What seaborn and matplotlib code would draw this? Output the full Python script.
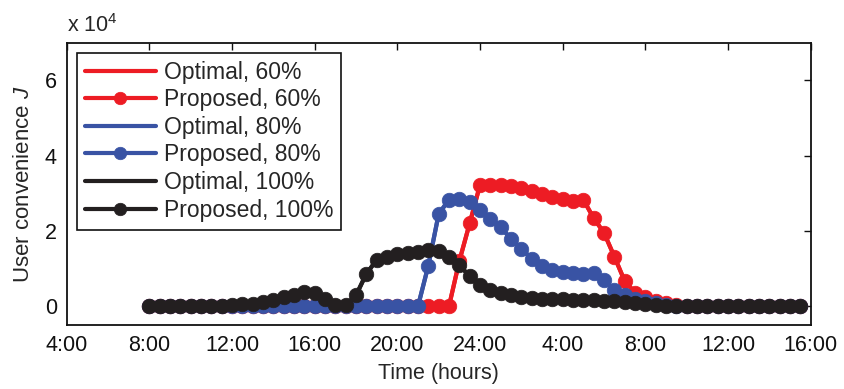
import numpy as np
import matplotlib
matplotlib.use("Agg")
import matplotlib.pyplot as plt
from matplotlib.ticker import FuncFormatter
import seaborn as sns

# ---------------- data ----------------
# time grid: every half hour from 8:00 to 15:30 next day (hours since midnight of day 1)
hours = np.arange(8.0, 40.0, 0.5)

# User convenience J, in units of 1e4
j60 = [0.0] * 30 + [1.2, 2.2, 3.22, 3.22, 3.21, 3.20, 3.14, 3.06, 2.98, 2.91, 2.84,
                    2.80, 2.83, 2.34, 1.95, 1.32, 0.67, 0.36, 0.24, 0.15, 0.08, 0.03] + [0.0] * 12
j80 = [0.0] * 27 + [1.08, 2.45, 2.83, 2.85, 2.77, 2.56, 2.32, 2.10, 1.79, 1.53, 1.26, 1.08,
                    0.97, 0.91, 0.88, 0.86, 0.88, 0.69, 0.44, 0.29, 0.20, 0.14, 0.09, 0.03] + [0.0] * 13
j100 = [0.0] * 8 + [0.02, 0.05, 0.07, 0.11, 0.17, 0.24, 0.31, 0.37, 0.34, 0.20, 0.03, 0.03,
                    0.29, 0.86, 1.23, 1.32, 1.38, 1.41, 1.45, 1.50, 1.47, 1.30, 1.10, 0.79,
                    0.56, 0.44, 0.35, 0.29, 0.25, 0.22, 0.20, 0.19, 0.18, 0.17, 0.16, 0.16,
                    0.15, 0.13, 0.11, 0.09, 0.06, 0.03, 0.01] + [0.0] * 13
# optimal curves coincide with the proposed ones in the picture
opt60 = list(j60)
opt80 = list(j80)
opt100 = list(j100)

UNIT = 1e4
series = [
    ("60%", opt60, j60, "#ED1C24"),
    ("80%", opt80, j80, "#3953A4"),
    ("100%", opt100, j100, "#231F20"),
]

xtick_pos = [4, 8, 12, 16, 20, 24, 28, 32, 36, 40]
xtick_labels = ["4:00", "8:00", "12:00", "16:00", "20:00", "24:00", "4:00", "8:00", "12:00", "16:00"]
ytick_pos = [0, 2, 4, 6]

# ---------------- style ----------------
sns.set_style("white")
plt.rcParams["font.family"] = ["Liberation Sans", "DejaVu Sans"]
plt.rcParams["mathtext.fontset"] = "custom"
plt.rcParams["mathtext.rm"] = "Liberation Sans"
plt.rcParams["mathtext.it"] = "Liberation Sans:italic"

fig = plt.figure(figsize=(8.44, 3.89), dpi=100)
ax = fig.add_axes([0.079, 0.1645, 0.8815, 0.7255])

for pct, opt, prop, col in series:
    sns.lineplot(x=hours, y=np.array(opt) * UNIT, ax=ax, color=col, linewidth=3.0,
                 estimator=None, label=f"Optimal, {pct}")
    sns.lineplot(x=hours, y=np.array(prop) * UNIT, ax=ax, color=col, linewidth=3.0,
                 marker="o", markersize=10.5, markeredgecolor=col, markeredgewidth=0.5,
                 estimator=None, label=f"Proposed, {pct}")

ax.set_xlim(4, 40)
ax.set_ylim(-0.5 * UNIT, 7 * UNIT)
ax.set_xticks(xtick_pos)
ax.set_xticklabels(xtick_labels)
ax.set_yticks([v * UNIT for v in ytick_pos])
ax.yaxis.set_major_formatter(FuncFormatter(lambda v, p: f"{v / UNIT:g}"))

ax.tick_params(direction="in", top=True, right=True, length=5, width=1,
               labelsize=15.5, colors="#111111", pad=7)
for s in ax.spines.values():
    s.set_visible(True)
    s.set_color("#111111")
    s.set_linewidth(1.3)

ax.set_xlabel("Time (hours)", fontsize=15.5, labelpad=5)
ax.set_ylabel("User convenience $J$", fontsize=16, labelpad=8)
ax.text(0.0, 1.0 + 10.7 / 282, "x 10$^4$", transform=ax.transAxes,
        ha="left", va="baseline", fontsize=15.5)

leg = ax.legend(loc="upper left", bbox_to_anchor=(0.0134, 0.965), borderaxespad=0,
                fontsize=16.5, handlelength=3.1, handletextpad=0.35, labelspacing=0.2,
                borderpad=0.35, fancybox=False, framealpha=1, edgecolor="#111111")
leg.get_frame().set_linewidth(1.2)
for h in leg.get_lines():
    h.set_markersize(9)

fig.savefig("out.png", dpi=100)
